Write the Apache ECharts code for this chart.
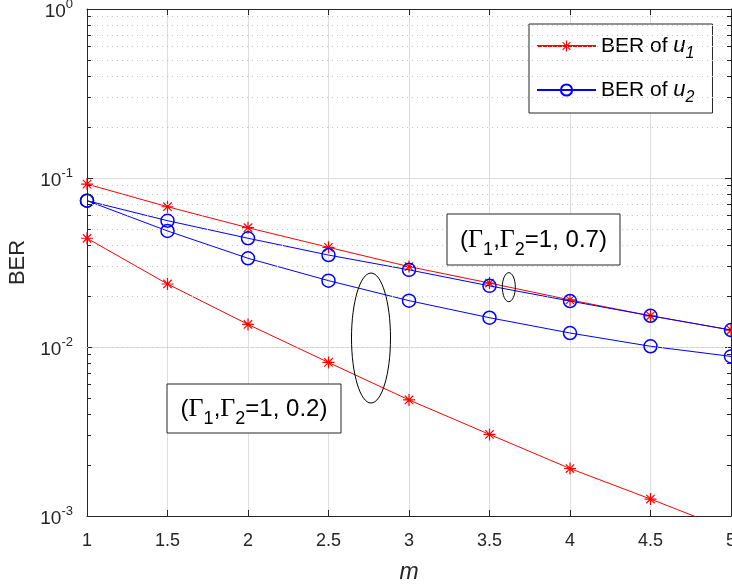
<!DOCTYPE html>
<html>
<head>
<meta charset="utf-8">
<script src="https://cdn.jsdelivr.net/npm/echarts@6/dist/echarts.min.js"></script>
<style>
  html, body { margin: 0; padding: 0; background: #fff; }
  #chart { width: 732px; height: 586px; }
</style>
</head>
<body>
<div id="chart"></div>
<script>
// m values (x axis)
const mVals = [1, 1.5, 2, 2.5, 3, 3.5, 4, 4.5, 5]
// (Γ1,Γ2 = 1, 0.7)
const u1Hi = [0.092, 0.0676, 0.0508, 0.0389, 0.0299, 0.0239, 0.0190, 0.0153, 0.0126]
const u2Hi = [0.0734, 0.0559, 0.0440, 0.0350, 0.0286, 0.0230, 0.0187, 0.0153, 0.0126]
// (Γ1,Γ2 = 1, 0.2)
const u1Lo = [0.0440, 0.0236, 0.0136, 0.0081, 0.00486, 0.00304, 0.00191, 0.00126, 0.00082]
const u2Lo = [0.0734, 0.0486, 0.0335, 0.0247, 0.0188, 0.0149, 0.0121, 0.0101, 0.0088]

const yDecades = [0.001, 0.01, 0.1, 1]
const minorMult = [2, 3, 4, 5, 6, 7, 8, 9]

const AX = '#262626'
const RED = '#ff0000'
const BLUE = '#0000ff'
const FONT = 'Liberation Sans'

const star = 'path://M-0.5,-5L0.5,-5L0.5,5L-0.5,5Z M-5,-0.5L5,-0.5L5,0.5L-5,0.5Z ' +
  'M-3.15,-3.85L3.85,3.15L3.15,3.85L-3.85,-3.15Z M-3.85,3.15L3.15,-3.85L3.85,-3.15L-3.15,3.85Z'

const pairs = arr => mVals.map((m, i) => [m, arr[i]])

// minor log ticks / dotted grid, built from decades
const minorVals = []
yDecades.slice(0, -1).forEach(d => minorMult.forEach(k => minorVals.push(+(d * k).toPrecision(3))))

function redSeries(arr) {
  return { name: 'BER of u1', type: 'line', data: pairs(arr), symbol: star, symbolSize: 12,
    itemStyle: { color: RED }, lineStyle: { color: RED, width: 1 }, z: 3 }
}
function blueSeries(arr) {
  return { name: 'BER of u2', type: 'line', data: pairs(arr), symbol: 'circle', symbolSize: 13,
    itemStyle: { color: 'rgba(0,0,0,0)', borderColor: BLUE, borderWidth: 1.5 },
    lineStyle: { color: BLUE, width: 1 }, z: 4 }
}

const minorLines = minorVals.map(v => ({ yAxis: v }))
const minorTicks = []
minorVals.forEach(v => {
  minorTicks.push([{ coord: [1, v] }, { coord: [1.025, v] }])
  minorTicks.push([{ coord: [4.975, v] }, { coord: [5, v] }])
})

const chart = echarts.init(document.getElementById('chart'), null, { renderer: 'canvas' })

const opt = {
  animation: false,
  backgroundColor: '#fff',
  textStyle: { fontFamily: FONT },
  grid: { left: 87, right: 1, top: 9, bottom: 70, outerBoundsMode: 'none', containLabel: false },
  xAxis: [
    { type: 'value', min: 1, max: 5, interval: 0.5, position: 'bottom',
      name: 'm', nameLocation: 'middle', nameGap: 45,
      nameTextStyle: { fontSize: 23, fontStyle: 'italic', color: AX, fontFamily: FONT },
      axisLine: { lineStyle: { color: AX, width: 1 } },
      axisTick: { inside: true, length: 6, lineStyle: { color: AX } },
      axisLabel: { color: AX, fontSize: 18, margin: 16, fontFamily: FONT },
      splitLine: { show: true, lineStyle: { color: '#dedede', width: 1 } } },
    { type: 'value', min: 1, max: 5, interval: 0.5, position: 'top',
      axisLine: { lineStyle: { color: AX, width: 1 } },
      axisTick: { inside: true, length: 6, lineStyle: { color: AX } },
      axisLabel: { show: false }, splitLine: { show: false } }
  ],
  yAxis: [
    { type: 'log', logBase: 10, min: 0.001, max: 1, position: 'left',
      name: 'BER', nameLocation: 'middle', nameGap: 54,
      nameTextStyle: { fontSize: 22, color: AX, fontFamily: FONT },
      axisLine: { lineStyle: { color: AX, width: 1 } },
      axisTick: { inside: true, length: 6, lineStyle: { color: AX } },
      axisLabel: { margin: 14, padding: [5, 0, 0, 0],
        formatter: v => '{b|10}{e|' + Math.round(Math.log10(v)) + '}',
        rich: {
          b: { fontSize: 19, lineHeight: 27, color: AX, fontFamily: FONT },
          e: { fontSize: 13, lineHeight: 13, verticalAlign: 'top', color: AX, fontFamily: FONT }
        } },
      splitLine: { show: true, lineStyle: { color: '#dedede', width: 1 } } },
    { type: 'log', logBase: 10, min: 0.001, max: 1, position: 'right',
      axisLine: { lineStyle: { color: AX, width: 1 } },
      axisTick: { inside: true, length: 6, lineStyle: { color: AX } },
      axisLabel: { show: false }, splitLine: { show: false } }
  ],
  legend: {
    data: ['BER of u1', 'BER of u2'],
    orient: 'vertical', left: 529, top: 24,
    padding: [11, 18, 7, 7], itemGap: 17, itemWidth: 59, itemHeight: 14,
    backgroundColor: '#fff', borderColor: AX, borderWidth: 1, borderRadius: 0,
    formatter: n => '{t|BER of }{u|u}{s|' + n.slice(-1) + '}',
    textStyle: {
      rich: {
        t: { fontSize: 21, lineHeight: 32, color: '#000', fontFamily: FONT },
        u: { fontSize: 22, lineHeight: 32, color: '#000', fontStyle: 'italic', fontFamily: FONT },
        s: { fontSize: 16, lineHeight: 16, verticalAlign: 'bottom', color: '#000', fontStyle: 'italic', fontFamily: FONT }
      }
    }
  },
  series: [
    { name: 'grid-minor', type: 'line', data: [], silent: true,
      markLine: { silent: true, symbol: 'none', label: { show: false }, animation: false,
        lineStyle: { color: '#c4c4c4', type: [1, 4], width: 1 }, data: minorLines } },
    { name: 'tick-minor', type: 'line', data: [], silent: true,
      markLine: { silent: true, symbol: 'none', label: { show: false }, animation: false,
        lineStyle: { color: AX, type: 'solid', width: 1 }, data: minorTicks } },
    redSeries(u1Hi),
    redSeries(u1Lo),
    blueSeries(u2Hi),
    blueSeries(u2Lo)
  ]
}
chart.setOption(opt)

// annotations
const bigC = chart.convertToPixel({ gridIndex: 0 }, [2.764, 0.0113])
const smallC = chart.convertToPixel({ gridIndex: 0 }, [3.62, 0.0226])
const gamma = {
  n: { fontSize: 24, lineHeight: 38, fill: '#000', fontFamily: FONT },
  g: { fontSize: 26, lineHeight: 38, fill: '#000', fontFamily: 'Liberation Serif' },
  s: { fontSize: 18, lineHeight: 18, verticalAlign: 'bottom', fill: '#000', fontFamily: FONT }
}
function labelBox(x, y, w, h, val) {
  return [
    { type: 'rect', shape: { x: x, y: y, width: w, height: h }, z: 10,
      style: { fill: '#fff', stroke: AX, lineWidth: 1 } },
    { type: 'text', x: x + w / 2, y: y + h / 2 + 1, z: 11,
      style: { text: '{n|(}{g|Γ}{s|1}{n|,}{g|Γ}{s|2}{n|=1, ' + val + ')}', rich: gamma,
        align: 'center', verticalAlign: 'middle' } }
  ]
}
chart.setOption({
  graphic: [
    { type: 'ellipse', shape: { cx: bigC[0], cy: bigC[1], rx: 19.5, ry: 65 }, z: 9,
      style: { fill: 'none', stroke: '#000', lineWidth: 1 } },
    { type: 'ellipse', shape: { cx: smallC[0], cy: smallC[1], rx: 6.5, ry: 14.5 }, z: 9,
      style: { fill: 'none', stroke: '#000', lineWidth: 1 } },
    ...labelBox(447, 214, 173, 51, '0.7'),
    ...labelBox(167, 384, 174, 49, '0.2')
  ]
})
</script>
</body>
</html>
